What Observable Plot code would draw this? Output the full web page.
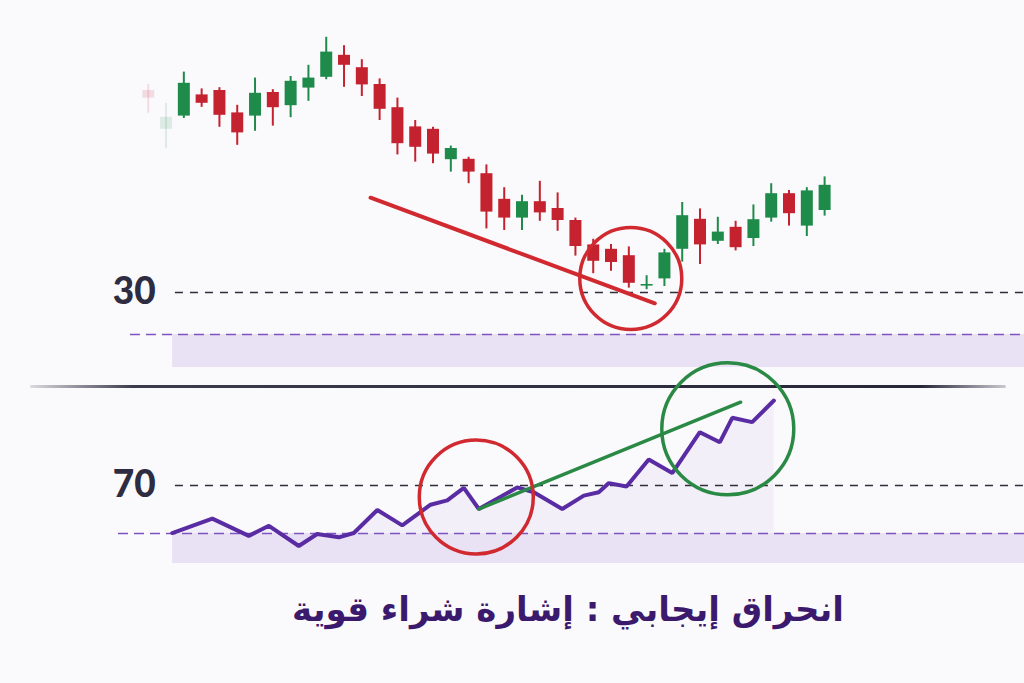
<!DOCTYPE html>
<html><head><meta charset="utf-8">
<script src="https://cdn.jsdelivr.net/npm/d3@7"></script>
<script src="https://cdn.jsdelivr.net/npm/@observablehq/plot@0.6"></script>
<style>
html,body{margin:0;padding:0;background:#faf9fc;width:1024px;height:683px;overflow:hidden}
#chart svg{display:block}
#title{font-family:"DejaVu Sans",sans-serif;font-weight:bold;font-size:34px;line-height:46px;color:#3b1a6d;text-align:center;direction:rtl;padding-left:112px;padding-top:6px}
</style></head>
<body><div id="chart"></div><div id="title"></div>
<script>
// ---- Price candles (index 0..38) ----
const open  = [80.5,70.8,74.1,79.4,80.5,74.9,74.1,80,76.7,81.1,83.8,89.3,86.2,82,76.2,71.4,70.8,63.2,63.3,59.7,53.3,48.6,52.7,51,48,41.9,40.8,39.2,31.6,33.4,40.8,48.3,42.8,46.3,43.5,48.6,54.7,46.6,50.5];
const close = [78.6,73.8,82.3,77.3,74.3,69.9,79.8,76.2,82.8,83.6,90.1,86.8,81.9,75.8,67.2,66.3,64.6,66,60.1,50.1,48.6,52.7,49.9,48,41.5,37.8,37.5,32.3,32,39.9,49.2,41.9,45.1,41.2,48.2,54.7,49.7,55.4,56.8];
const high  = [82,77.3,85.1,80.9,81.2,76.8,83.6,80.7,84,86.8,93.8,91.7,88.2,83.4,78.6,73,71.3,66.6,63.8,61.9,56.2,54.3,57.8,54.9,48.6,43.3,42,41.4,34.2,40.8,52.5,50.9,48.8,47.8,51.9,57.2,55.5,56.2,58.9];
const low   = [74.8,66,73.5,76.3,71.3,66.8,70.3,71.6,73.7,77.8,83.2,81.3,79,73,64.4,62.6,62.2,60.1,57.2,45.9,45.5,45.5,47.8,45.3,39.1,34.7,35.3,31.1,30.7,31.5,37.6,37,42,40.4,41.5,47.6,46.6,44,49.1];

// ---- RSI line ----
const rsiT     = [1.35,3.6,5.65,6.78,8.46,9.49,10.71,11.55,12.87,14.27,15.86,16.8,17.73,18.57,20.73,21.66,23.26,24.47,25.31,25.88,26.87,28.12,29.44,30.99,32.11,32.81,33.93,35.15];
const rsiValue = [60.1,63.1,59.5,61.6,57.4,59.9,59.2,60.1,64.9,61.7,66,66.9,69.5,65.1,69.6,68.6,65.1,67.9,68.6,70.5,69.8,75.4,72.6,81.1,79,84.1,83.2,87.7];

// ---- Levels, bands, annotations ----
const priceLevel = [30];
const rsiLevel = [70];
const priceZone = [{lo: 11.25, hi: 19.5}];
const rsiZone = [{lo: 53.75, hi: 60}];
const priceTrend = [{t: 12.49, v: 53.7}, {t: 28.46, v: 27.3}];
const rsiTrend = [{t: 18.57, v: 65.1}, {t: 33.28, v: 87.35}];
const priceCircle = [{t: 27.11, v: 33.5}];
const rsiRedCircle = [{t: 18.43, v: 67.6}];
const rsiGreenCircle = [{t: 32.56, v: 81.8}];
const dividerLevel = [90.6];
const titleText = "انحراق إيجابي : إشارة شراء قوية";

const candles = open.map((o, i) => ({t: i, open: o, close: close[i], high: high[i], low: low[i], faded: i < 2}));
const rsi = rsiT.map((t, i) => ({t, v: rsiValue[i]}));

const RED = "#c5222f", GREEN = "#1f8b4b", PURPLE = "#5a2ca3";
const xDomain = [-8.3, 49.23];
const col = d => d.close >= d.open ? GREEN : RED;
const op = d => d.faded ? 0.13 : 1;

const priceChart = Plot.plot({
  width: 1024, height: 380,
  marginTop: 0, marginBottom: 0, marginLeft: 0, marginRight: 0,
  x: {domain: xDomain, axis: null},
  y: {domain: [8, 103], axis: null},
  style: {background: "transparent", overflow: "visible"},
  marks: [
    Plot.rect(priceZone, {x1: 1.37, x2: 50, y1: "lo", y2: "hi", fill: "#e9e1f4"}),
    Plot.ruleY(priceZone, {y: "hi", x1: -1, x2: 50, stroke: "#7d55c0", strokeWidth: 1.6, strokeDasharray: "10,6"}),
    Plot.ruleY(priceLevel, {x1: 1.53, x2: 50, stroke: "#2f2f3a", strokeWidth: 1.5, strokeDasharray: "8,7"}),
    Plot.text(priceLevel, {x: 0.42, y: d => d, text: d => String(d), textAnchor: "end", fontSize: 37, fontWeight: 900, fontFamily: "Lato", fill: "#2d2c40"}),
    Plot.ruleX(candles, {x: "t", y1: "low", y2: "high", stroke: col, strokeOpacity: op, strokeWidth: 2}),
    Plot.ruleX(candles, {x: "t", y1: "open", y2: d => d.close === d.open ? d.close + 0.4 : d.close, stroke: col, strokeOpacity: op, strokeWidth: 12}),
    Plot.line(priceTrend, {x: "t", y: "v", stroke: "#d02a30", strokeWidth: 4}),
    Plot.dot(priceCircle, {x: "t", y: "v", r: 51, stroke: "#d02a30", strokeWidth: 3.5, fill: "none"})
  ]
});

const gradient = () => {
  const ns = "http://www.w3.org/2000/svg";
  const g = document.createElementNS(ns, "defs");
  g.innerHTML = '<linearGradient id="divGrad" gradientUnits="userSpaceOnUse" x1="0" x2="1024" y1="0" y2="0">' +
    '<stop offset="0.03" stop-color="#262638" stop-opacity="0.15"/>' +
    '<stop offset="0.13" stop-color="#262638" stop-opacity="0.9"/>' +
    '<stop offset="0.9" stop-color="#262638" stop-opacity="1"/>' +
    '<stop offset="0.985" stop-color="#262638" stop-opacity="0.2"/></linearGradient>';
  return g;
};

const rsiChart = Plot.plot({
  width: 1024, height: 200,
  marginTop: 0, marginBottom: 0, marginLeft: 0, marginRight: 0,
  x: {domain: xDomain, axis: null},
  y: {domain: [50.208, 91.875], axis: null},
  style: {background: "transparent", overflow: "visible"},
  marks: [
    gradient,
    Plot.ruleY(dividerLevel, {x1: -6.6, x2: 48.2, stroke: "url(#divGrad)", strokeWidth: 3}),
    Plot.rect(rsiZone, {x1: 1.37, x2: 50, y1: "lo", y2: "hi", fill: "#e9e1f4"}),
    Plot.areaY(rsi, {x: "t", y1: 60, y2: "v", fill: "#e6def2", fillOpacity: 0.35}),
    Plot.ruleY(rsiZone, {y: "hi", x1: -1.67, x2: 50, stroke: "#7d55c0", strokeWidth: 1.6, strokeDasharray: "10,6"}),
    Plot.ruleY(rsiLevel, {x1: 1.53, x2: 50, stroke: "#2f2f3a", strokeWidth: 1.5, strokeDasharray: "8,7"}),
    Plot.text(rsiLevel, {x: 0.42, y: d => d, text: d => String(d), textAnchor: "end", fontSize: 37, fontWeight: 900, fontFamily: "Lato", fill: "#2d2c40"}),
    Plot.line(rsi, {x: "t", y: "v", stroke: PURPLE, strokeWidth: 4, strokeLinejoin: "miter"}),
    Plot.line(rsiTrend, {x: "t", y: "v", stroke: "#2a8a45", strokeWidth: 3.5}),
    Plot.dot(rsiRedCircle, {x: "t", y: "v", r: 57, stroke: "#d02a30", strokeWidth: 3.5, fill: "none"}),
    Plot.dot(rsiGreenCircle, {x: "t", y: "v", r: 66, stroke: "#2a8a45", strokeWidth: 3.5, fill: "none"})
  ]
});

document.getElementById("chart").append(priceChart, rsiChart);
document.getElementById("title").textContent = titleText;
</script>
</body></html>
